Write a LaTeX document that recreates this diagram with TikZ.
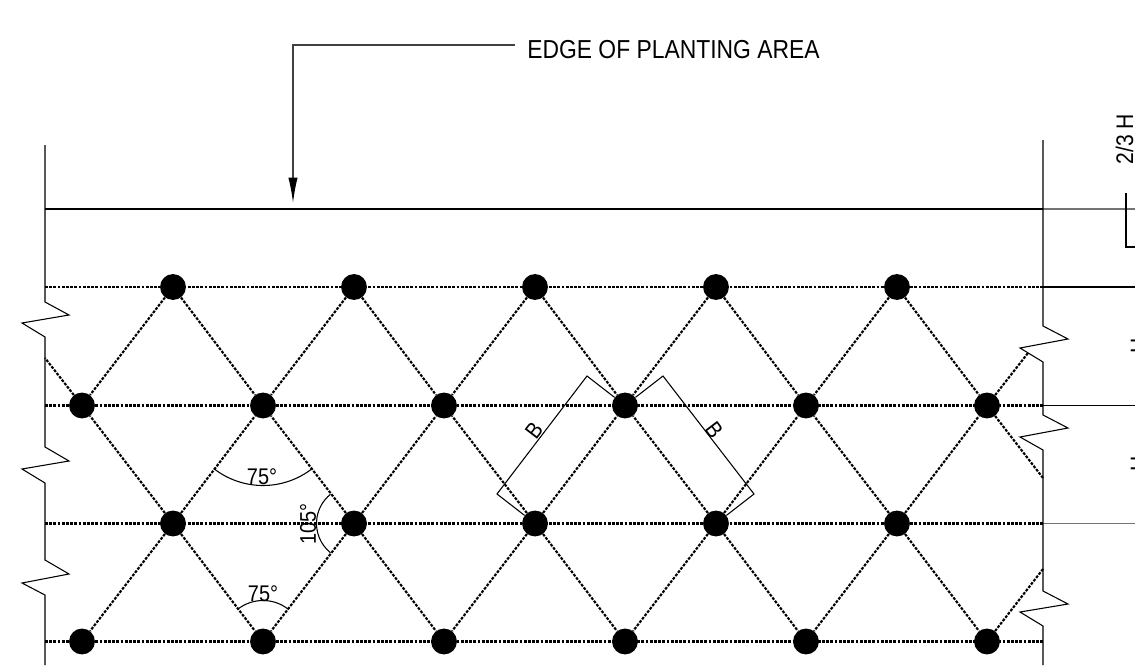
\documentclass[tikz,border=0pt]{standalone}
\usepackage{fontspec}
\setmainfont[FakeStretch=0.88]{Liberation Sans}
\usetikzlibrary{arrows.meta}
\colorlet{mygray}{black!55}
\colorlet{myleader}{black!75}
\tikzset{
  plant/.style={circle,fill=black,draw=none,minimum size=19.4pt,inner sep=0pt},
  plantline/.style={black,line width=1.6pt,dash pattern=on 2.1pt off 1.05pt},
  thinline/.style={black,line width=0.8pt},
  grayline/.style={mygray,line width=0.8pt},
  bigtxt/.style={font=\fontsize{19.5}{22}\selectfont,inner sep=0pt},
  smalltxt/.style={font=\fontsize{17}{20}\selectfont,inner sep=0pt},
  midtxt/.style={font=\fontsize{18}{20}\selectfont,inner sep=0pt},
}

\begin{document}
\begin{tikzpicture}[x=0.75pt,y=-0.75pt]
  \useasboundingbox (0,0) rectangle (1135,667);
  
  \def\xl{45}
  \def\xr{1043}
  \coordinate (leadstart) at (515,45);
  \coordinate (leadtip) at (293,203);
  \coordinate (edgeL) at (\xl,209);
  \coordinate (edgeR) at (\xr,209);
  \coordinate (edgeE) at (1135,209);
  \coordinate (dimtop) at (1126,193);
  \coordinate (dimbot) at (1126,247);
  \coordinate (dimend) at (1135,247);
  
  % ROWS
  \foreach \r/\y in {A/287,B/405.5,C/523.5,D/641.5} {
    \coordinate (L\r) at (\xl,\y);
    \coordinate (R\r) at (\xr,\y);
    \coordinate (E\r) at (1135,\y);
    \draw[plantline] (L\r) -- (R\r);
  }
  
  % PLANTS
  \foreach \i/\x in {1/173,2/354,3/535,4/716,5/897} {
    \node[plant] (A\i) at (\x,287) {};
    \node[plant] (C\i) at (\x,523.5) {};
  }
  \foreach \i/\x in {1/82,2/263,3/444,4/625,5/806,6/987} {
    \node[plant] (B\i) at (\x,405.5) {};
    \node[plant] (D\i) at (\x,641.5) {};
  }
  
  % DIAGONALS
  \foreach \i/\j in {1/2,2/3,3/4,4/5,5/6} {
    \foreach \r in {A,C} {
      \draw[plantline] (\r\i) -- (B\i);
      \draw[plantline] (\r\i) -- (B\j);
    }
    \draw[plantline] (C\i) -- (D\i);
    \draw[plantline] (C\i) -- (D\j);
  }
  \coordinate (cutA) at (\xl,358);
  \coordinate (cutB) at (1028,353);
  \coordinate (cutC) at (\xr,478);
  \coordinate (cutD) at (\xr,569);
  \draw[plantline] (B1) -- (cutA);
  \draw[plantline] (B6) -- (cutB);
  \draw[plantline] (B6) -- (cutC);
  \draw[plantline] (D6) -- (cutD);
  
  % EDGES
  \draw[black,line width=1.5pt] (edgeL) -- (edgeR);
  \draw[grayline] (edgeR) -- (edgeE);
  \draw[thinline] (RA) -- (EA);
  \draw[thinline] (RB) -- (EB);
  \draw[grayline] (RC) -- (EC);
  \draw[thinline] (dimtop) -- (dimbot) -- (dimend);
  \draw[thinline] (\xl,145) -- (\xl,302) -- (69,315) -- (22,323) -- (\xl,337)
    -- (\xl,447) -- (69,461) -- (22,469) -- (\xl,483)
    -- (\xl,560) -- (69,574) -- (22,583) -- (\xl,595) -- (\xl,665);
  \draw[thinline] (\xr,140) -- (\xr,326) -- (1068,339) -- (1020,348) -- (\xr,362)
    -- (\xr,415) -- (1068,428) -- (1020,437) -- (\xr,450)
    -- (\xr,591) -- (1068,604) -- (1020,612) -- (\xr,626) -- (\xr,665);
  
  % LEADER
  \node[bigtxt,anchor=west] (edgelbl) at (527,50) {EDGE OF PLANTING AREA};
  \draw[myleader,line width=1pt,-{Latex[length=19pt,width=7pt,black]}]
    (leadstart) -| (leadtip);
  
  % ANGLES
  \draw[thinline] (B2) ++(128:80) arc[start angle=128,end angle=52,radius=80];
  \draw[thinline] (D2) ++(232:41) arc[start angle=232,end angle=308,radius=41];
  \draw[thinline] (C2) ++(129:37.5) arc[start angle=129,end angle=231,radius=37.5];
  \node[smalltxt] (ang1) at (262,477) {75°};
  \node[smalltxt] (ang2) at (263,594) {75°};
  \node[smalltxt,rotate=90] (ang3) at (308,524) {105°};
  
  % SPACING
  \coordinate (bA) at (587,376);
  \coordinate (bB) at (497,494);
  \coordinate (bC) at (663,376);
  \coordinate (bD) at (754,494);
  \draw[thinline] (B4) -- (bA) -- (bB) -- (C3);
  \draw[thinline] (B4) -- (bC) -- (bD) -- (C4);
  \node[smalltxt,rotate=52.6] (labB1) at (534,430) {B};
  \node[smalltxt,rotate=-52.6] (labB2) at (714,430) {B};
  
  % HEIGHTS
  \node[midtxt,rotate=90] (labH) at (1124.5,139) {2/3 H};
  \node[midtxt,rotate=90] (labH1) at (1139,346) {H};
  \node[midtxt,rotate=90] (labH2) at (1139,464) {H};
  
\end{tikzpicture}
\end{document}
